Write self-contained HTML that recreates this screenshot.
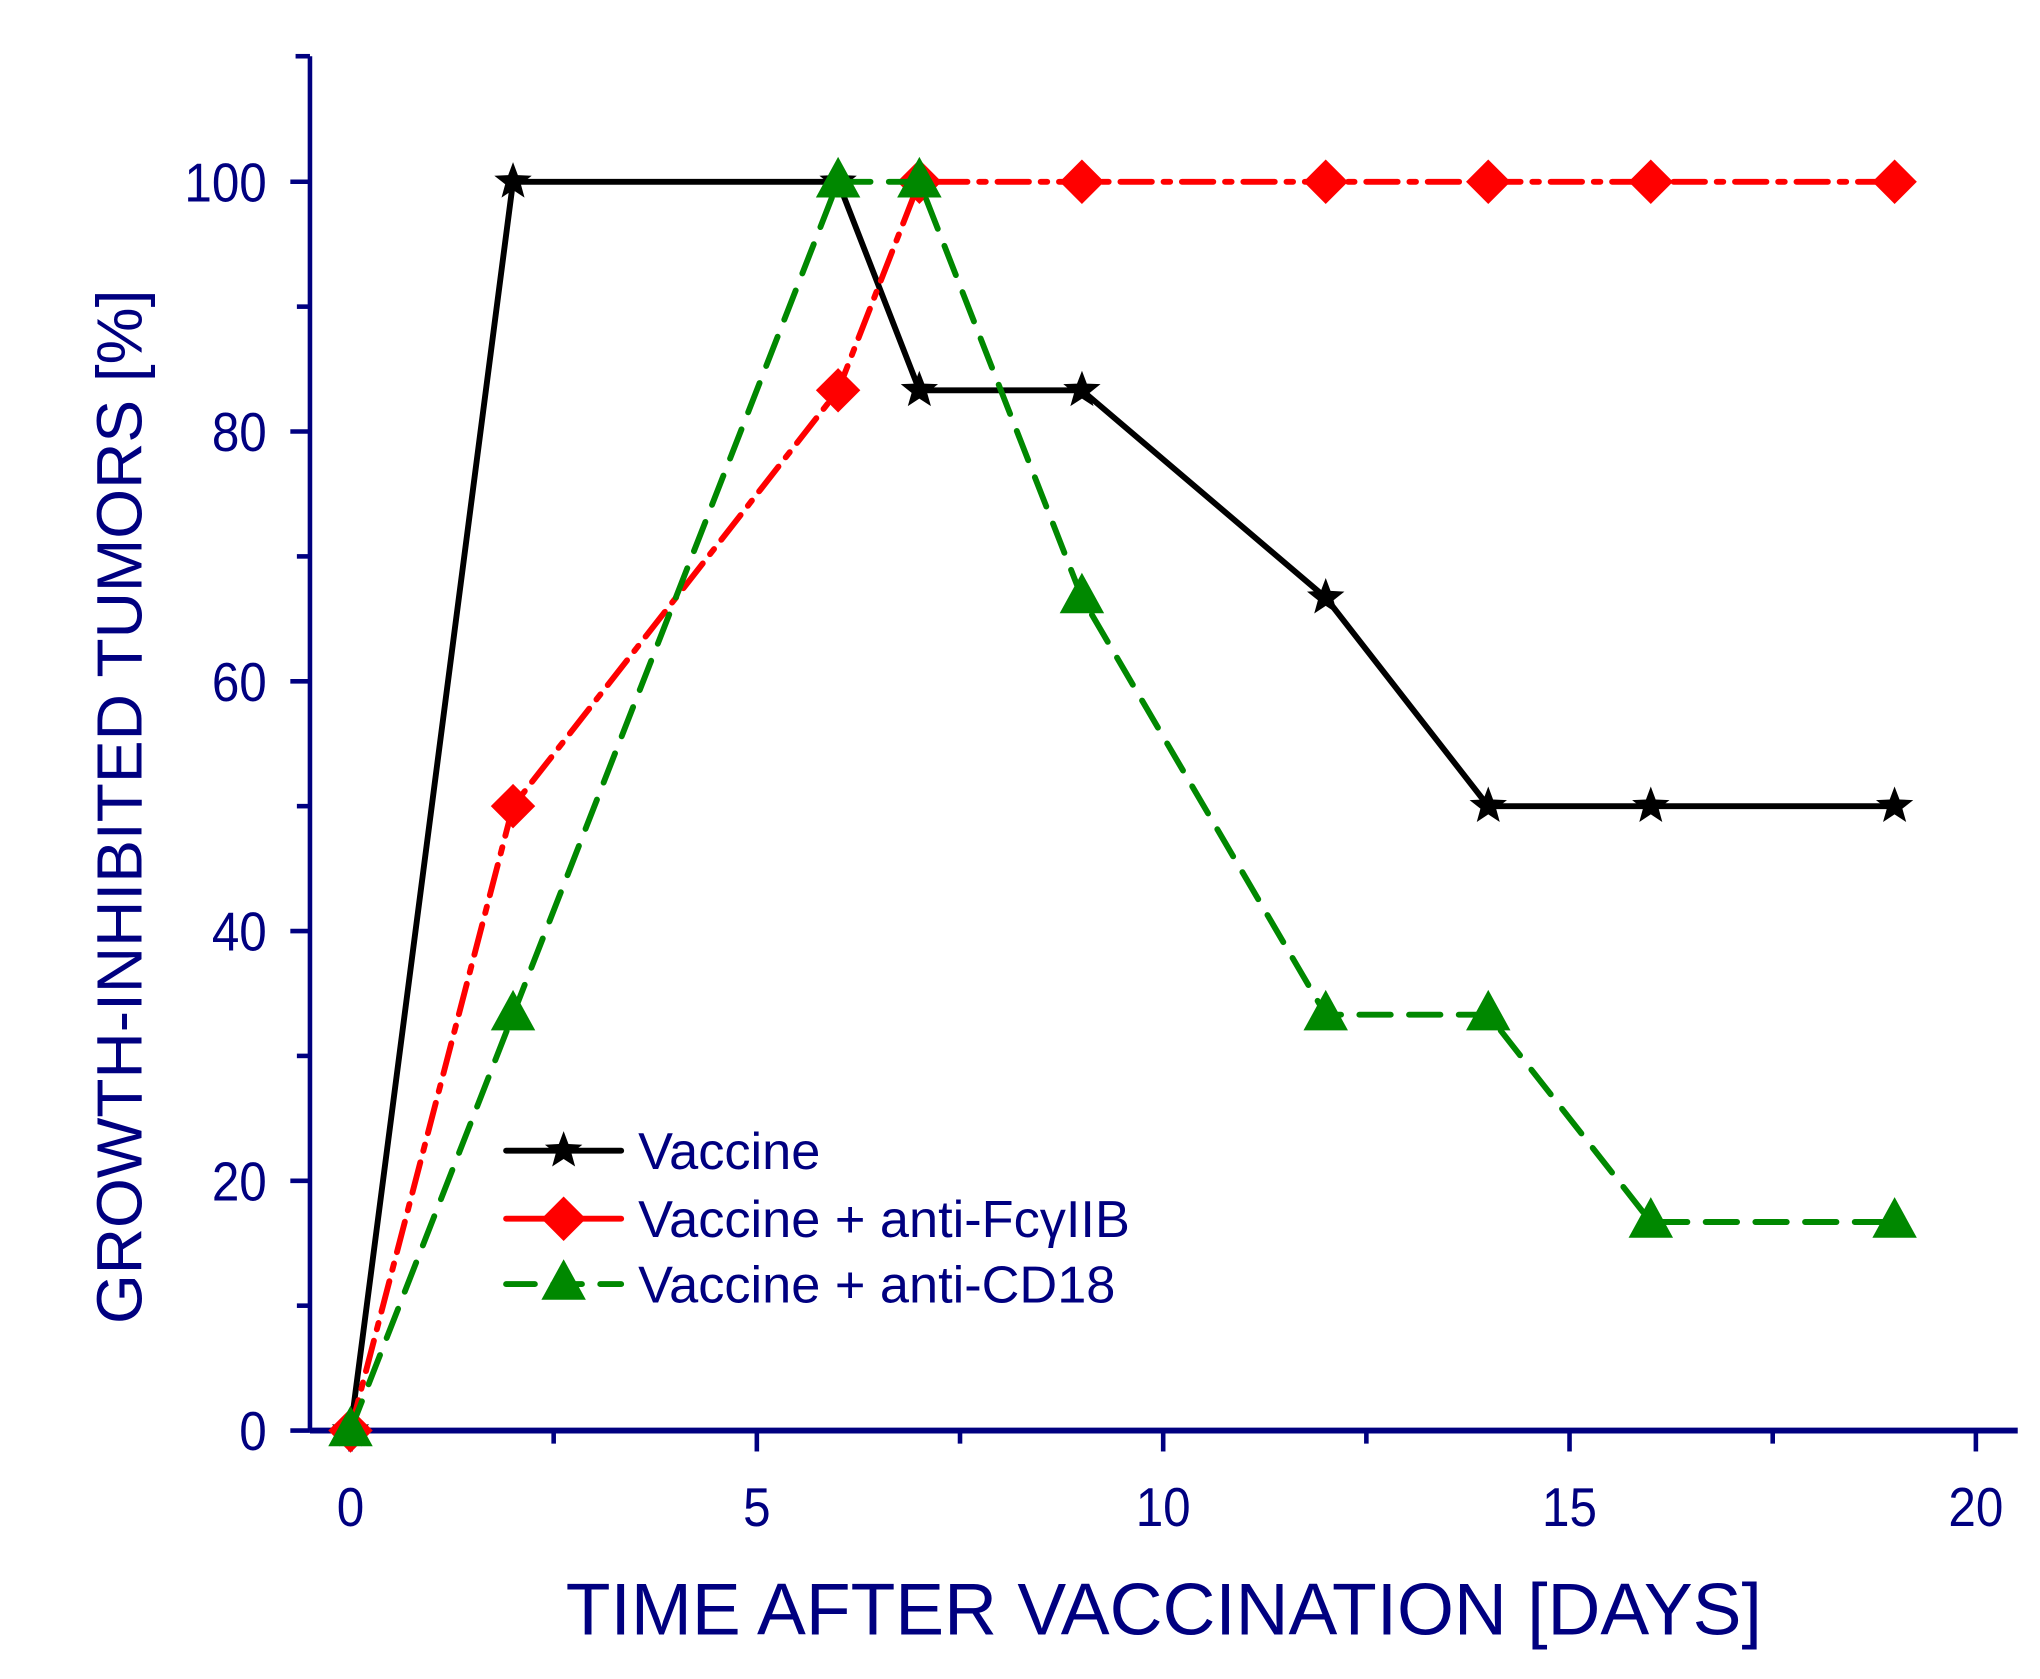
<!DOCTYPE html>
<html><head><meta charset="utf-8"><style>html,body{margin:0;padding:0;background:#fff}svg{display:block}</style></head>
<body>
<svg id="s" width="2040" height="1679" viewBox="0 0 1560 1284" xmlns="http://www.w3.org/2000/svg" font-family="Liberation Sans, Arial, sans-serif">
<rect width="1560" height="1284" fill="#fff"/>
<g id="g"></g>
</svg>
<script>
var NS="http://www.w3.org/2000/svg",g=document.getElementById('g');
function X(v){return 268+v*62.15}function Y(v){return 1094-v*9.55}
function el(t,a,txt){var e=document.createElementNS(NS,t);for(var k in a)e.setAttribute(k,a[k]);if(txt!=null)e.textContent=txt;g.appendChild(e);return e}
var N='#000080';
el('line',{x1:237,y1:43,x2:237,y2:1094,stroke:N,'stroke-width':3.5});
el('line',{x1:237,y1:1094,x2:1543,y2:1094,stroke:N,'stroke-width':4.5});
el('line',{x1:226,y1:43,x2:237,y2:43,stroke:N,'stroke-width':3.5});
for(var v=0;v<=100;v+=10){var y=Y(v),maj=v%20==0;el('line',{x1:maj?222:227,y1:y,x2:237,y2:y,stroke:N,'stroke-width':3.5});
 if(maj)el('text',{x:204,y:y+15,'text-anchor':'end','font-size':42,fill:N,transform:'translate(204,0) scale(0.9,1) translate(-204,0)'},v);}
for(var v=0;v<=20;v+=2.5){var x=X(v),maj=v%5==0;el('line',{x1:x,y1:1094,x2:x,y2:maj?1110:1104,stroke:N,'stroke-width':3.5});
 if(maj)el('text',{x:x,y:1167,'text-anchor':'middle','font-size':42,fill:N,transform:'translate('+x+',0) scale(0.9,1) translate('+(-x)+',0)'},v);}
el('text',{x:890,y:1250,'text-anchor':'middle','font-size':56,fill:N},'TIME AFTER VACCINATION [DAYS]');
el('text',{x:0,y:0,transform:'translate(108,617) rotate(-90)','text-anchor':'middle','font-size':49,fill:N},'GROWTH-INHIBITED TUMORS [%]');
var xs=[0,2,6,7,9,12,14,16,19];
var S=[{c:'#000',d:'none',m:'star',y:[0,100,100,83.3,83.3,66.7,50,50,50]},
{c:'#ff0000',d:'24 9 5 9',m:'dia',y:[0,50,83.3,100,100,100,100,100,100]},
{c:'#008800',d:'24 14',m:'tri',y:[0,33.3,100,100,66.7,33.3,33.3,16.7,16.7]}];
function star(x,y,r){var p=[];for(var i=0;i<10;i++){var a=-Math.PI/2+i*Math.PI/5,rr=i%2?r*0.42:r;p.push((x+rr*Math.cos(a)).toFixed(1)+','+(y+rr*Math.sin(a)).toFixed(1))}return p.join(' ')}
function mark(m,x,y,c){if(m=='star')el('polygon',{points:star(x,y,15),fill:c});
 else if(m=='dia')el('polygon',{points:(x)+','+(y-17)+' '+(x+17)+','+y+' '+x+','+(y+17)+' '+(x-17)+','+y,fill:c});
 else el('polygon',{points:x+','+(y-19)+' '+(x+17)+','+(y+12)+' '+(x-17)+','+(y+12),fill:c});}
S.forEach(function(s){var p=xs.map(function(v,i){return X(v)+','+Y(s.y[i])}).join(' ');
 var a={points:p,fill:'none',stroke:s.c,'stroke-width':4.5,'stroke-linecap':'round','stroke-linejoin':'round'};if(s.d!='none')a['stroke-dasharray']=s.d;el('polyline',a);
 xs.forEach(function(v,i){mark(s.m,X(v),Y(s.y[i]),s.c)});});
var L=[['Vaccine',880],['Vaccine + anti-Fc\u03b3IIB',932],['Vaccine + anti-CD18',982]];
L.forEach(function(l,i){var s=S[i],a={x1:387,y1:l[1],x2:475,y2:l[1],stroke:s.c,'stroke-width':4.5,'stroke-linecap':'round'};if(s.d!='none')a['stroke-dasharray']=i==1?'90':'22 14';el('line',a);mark(s.m,431,l[1],s.c);
 el('text',{x:488,y:l[1]+14,'font-size':40,fill:N},l[0]);});
</script>
</body></html>
